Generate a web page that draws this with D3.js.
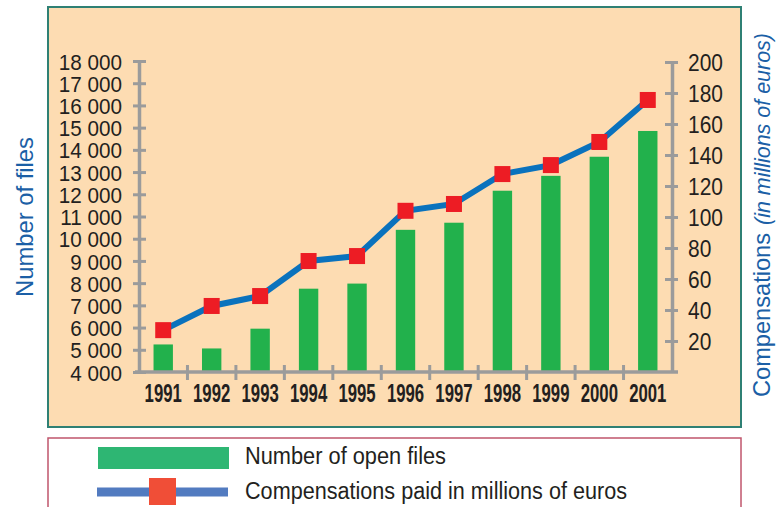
<!DOCTYPE html>
<html>
<head>
<meta charset="utf-8">
<script src="https://cdn.jsdelivr.net/npm/d3@7"></script>
<style>
  body { margin: 0; background: #fff; }
  text { font-family: "Liberation Sans", Arial, sans-serif; fill: #231f20; }
</style>
</head>
<body>
<div id="chart"></div>
<script>
var years = ['1991', '1992', '1993', '1994', '1995', '1996', '1997', '1998', '1999', '2000', '2001'];
var openFiles = [5240, 5060, 5950, 7750, 7980, 10400, 10720, 12160, 12830, 13690, 14850];
var compensations = [27, 42.6, 49, 71.6, 74.8, 104, 108.4, 127.7, 133.5, 148.4, 175.5];
var filesTicks = [4000, 5000, 6000, 7000, 8000, 9000, 10000, 11000, 12000, 13000, 14000, 15000, 16000, 17000, 18000];
var compTicks = [20, 40, 60, 80, 100, 120, 140, 160, 180, 200];
var legendLabels = ['Number of open files', 'Compensations paid in millions of euros'];

var W = 777, H = 507;
var axisGrey = '#9b9b9b';

var svg = d3.select('#chart').append('svg')
    .attr('width', W)
    .attr('height', H);

// peach panel + legend box
svg.append('rect')
    .attr('x', 48).attr('y', 7).attr('width', 693).attr('height', 420)
    .attr('fill', '#fddcb2').attr('stroke', '#2f8074').attr('stroke-width', 2);

svg.append('rect')
    .attr('x', 48).attr('y', 438).attr('width', 693).attr('height', 80)
    .attr('fill', '#fff').attr('stroke', '#c0566c').attr('stroke-width', 1.5);

var x = d3.scaleBand()
    .domain(years)
    .range([139, 672])
    .paddingInner(0.6)
    .paddingOuter(0.3);

var yFiles = d3.scaleLinear().domain([4000, 18000]).range([372, 61]);
var yComp = d3.scaleLinear().domain([0, 200]).range([372, 62]);

// bars
svg.selectAll('rect.bar')
    .data(openFiles)
  .enter().append('rect')
    .attr('class', 'bar')
    .attr('x', function(d, i) { return x(years[i]); })
    .attr('width', x.bandwidth())
    .attr('y', function(d) { return yFiles(d); })
    .attr('height', function(d) { return yFiles(4000) - yFiles(d); })
    .attr('fill', '#22b14c');

// left axis
var leftAxis = svg.append('g')
    .attr('transform', 'translate(139,0)')
    .call(d3.axisLeft(yFiles).tickValues(filesTicks).tickSizeOuter(0)
      .tickFormat(function(d) { return d3.format(',')(d).replace(',', ' '); }));
leftAxis.select('.domain').attr('stroke', axisGrey).attr('stroke-width', 3.5);
leftAxis.selectAll('.tick line').attr('x1', -6).attr('x2', 7)
    .attr('stroke', axisGrey).attr('stroke-width', 3);
leftAxis.selectAll('.tick text')
    .attr('x', -18.5).attr('dy', '0.36em')
    .attr('transform', 'scale(0.92,1)')
    .style('font-size', '22.5px').attr('fill', '#231f20');

// right axis
var rightAxis = svg.append('g')
    .attr('transform', 'translate(672,0)')
    .call(d3.axisRight(yComp).tickValues(compTicks).tickSizeOuter(0));
rightAxis.select('.domain').attr('stroke', axisGrey).attr('stroke-width', 3.5);
rightAxis.selectAll('.tick line').attr('x1', -7).attr('x2', 6)
    .attr('stroke', axisGrey).attr('stroke-width', 3);
rightAxis.selectAll('.tick text')
    .attr('x', 17.6).attr('dy', '0.36em')
    .attr('transform', 'scale(0.91,1)')
    .style('font-size', '23px').attr('fill', '#231f20');

// bottom axis, ticks sit between the years
var step = x.step();
var bottomAxis = svg.append('g')
    .attr('transform', 'translate(0,372)')
    .call(d3.axisBottom(x).tickSizeOuter(0));
bottomAxis.select('.domain').remove();
bottomAxis.selectAll('.tick line')
    .attr('x1', step / 2).attr('x2', step / 2)
    .attr('y1', -7).attr('y2', 8)
    .attr('stroke', axisGrey).attr('stroke-width', 3)
    .style('display', function(d, i) { return i === years.length - 1 ? 'none' : null; });
bottomAxis.selectAll('.tick text')
    .attr('y', 30.5).attr('dy', 0)
    .attr('transform', 'scale(0.67,1)')
    .style('font-size', '25px').style('font-weight', 'bold').attr('fill', '#231f20');
bottomAxis.append('line')
    .attr('x1', x.range()[0] - 4).attr('x2', x.range()[1] + 6)
    .attr('stroke', axisGrey).attr('stroke-width', 3.5);

// compensation line + squares
var line = d3.line()
    .x(function(d, i) { return x(years[i]) + x.bandwidth() / 2; })
    .y(function(d) { return yComp(d); });

svg.append('path')
    .datum(compensations)
    .attr('d', line)
    .attr('fill', 'none')
    .attr('stroke', '#0a72bd')
    .attr('stroke-width', 6);

var sq = 16;
svg.selectAll('rect.pt')
    .data(compensations)
  .enter().append('rect')
    .attr('class', 'pt')
    .attr('x', function(d, i) { return x(years[i]) + x.bandwidth() / 2 - sq / 2; })
    .attr('y', function(d) { return yComp(d) - sq / 2; })
    .attr('width', sq).attr('height', sq)
    .attr('fill', '#ed1c24');

// axis titles
svg.append('text')
    .attr('transform', 'translate(33,297) rotate(-90)')
    .attr('textLength', 160).attr('lengthAdjust', 'spacingAndGlyphs')
    .style('font-size', '24px').style('fill', '#1b5fa6')
    .text('Number of files');

svg.append('text')
    .attr('transform', 'translate(770,397) rotate(-90)')
    .attr('textLength', 164).attr('lengthAdjust', 'spacingAndGlyphs')
    .style('font-size', '24px').style('fill', '#1b5fa6')
    .text('Compensations');

svg.append('text')
    .attr('transform', 'translate(770,225) rotate(-90)')
    .attr('textLength', 192).attr('lengthAdjust', 'spacingAndGlyphs')
    .style('font-size', '22px').style('font-style', 'italic').style('fill', '#1b5fa6')
    .text('(in millions of euros)');

// legend
svg.append('rect')
    .attr('x', 98).attr('y', 447).attr('width', 131).attr('height', 22)
    .attr('fill', '#2eb673');
svg.append('rect')
    .attr('x', 97).attr('y', 487.5).attr('width', 131).attr('height', 9)
    .attr('fill', '#527bc0');
svg.append('rect')
    .attr('x', 149).attr('y', 478).attr('width', 27).attr('height', 27)
    .attr('fill', '#f04e37');

svg.append('text')
    .attr('x', 245).attr('y', 464)
    .attr('textLength', 201).attr('lengthAdjust', 'spacingAndGlyphs')
    .style('font-size', '23px')
    .text(legendLabels[0]);
svg.append('text')
    .attr('x', 245).attr('y', 499)
    .attr('textLength', 382).attr('lengthAdjust', 'spacingAndGlyphs')
    .style('font-size', '23px')
    .text(legendLabels[1]);
</script>
</body>
</html>
